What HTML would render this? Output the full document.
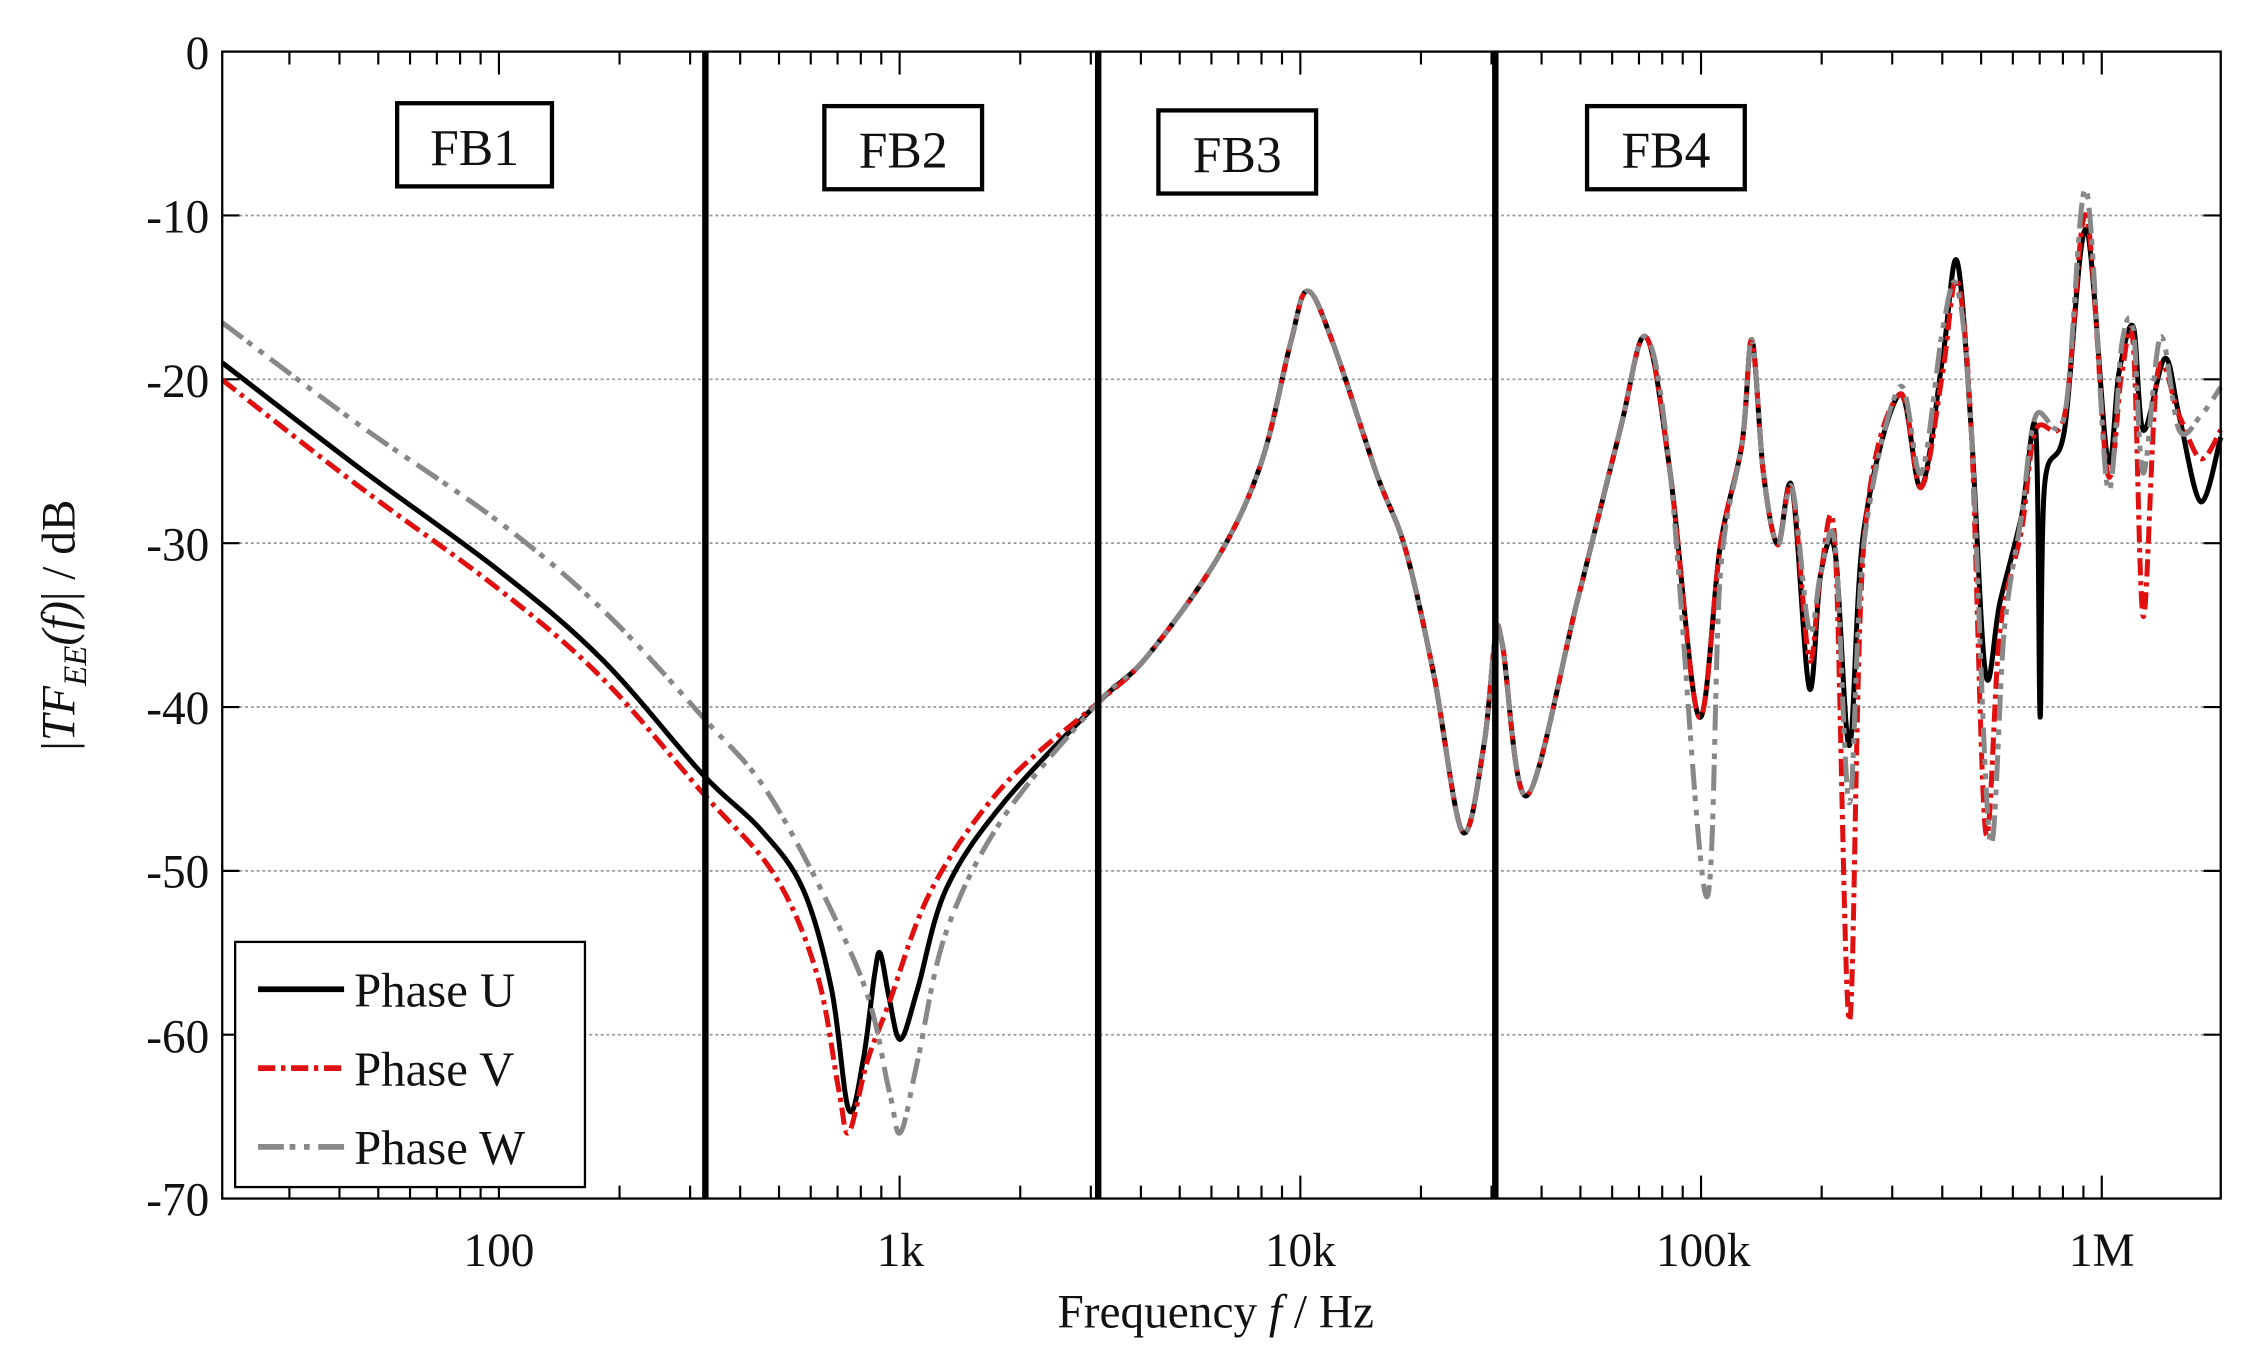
<!DOCTYPE html>
<html><head><meta charset="utf-8"><style>
html,body{margin:0;padding:0;background:#fff;}
svg{display:block;}
text{font-family:"Liberation Serif",serif;fill:#111;}
</style></head><body>
<svg id="s" width="2248" height="1370" viewBox="0 0 1568 955.6" xmlns="http://www.w3.org/2000/svg">
<rect x="0" y="0" width="1568" height="956" fill="#fff"/>
<g id="grid"></g>
<g id="ticks"></g>
<g id="curves" fill="none" stroke-linejoin="round"></g>
<g stroke="#000" stroke-width="4.5">
<line x1="492" y1="36" x2="492" y2="836"/>
<line x1="766" y1="36" x2="766" y2="836"/>
<line x1="1043" y1="36" x2="1043" y2="836"/>
</g>
<rect x="155" y="36" width="1394" height="800" fill="none" stroke="#000" stroke-width="1.6"/>
<g font-size="36" text-anchor="middle">
<rect x="277" y="72" width="108" height="58" fill="#fff" stroke="#000" stroke-width="3"/><text x="331" y="115">FB1</text>
<rect x="575" y="74" width="110" height="58" fill="#fff" stroke="#000" stroke-width="3"/><text x="630" y="117">FB2</text>
<rect x="808" y="77" width="110" height="58" fill="#fff" stroke="#000" stroke-width="3"/><text x="863" y="120">FB3</text>
<rect x="1107" y="74" width="110" height="58" fill="#fff" stroke="#000" stroke-width="3"/><text x="1162" y="117">FB4</text>
</g>
<g font-size="33" text-anchor="end">
<text x="146" y="48">0</text><text x="146" y="162">-10</text><text x="146" y="277">-20</text>
<text x="146" y="391">-30</text><text x="146" y="505">-40</text><text x="146" y="619">-50</text>
<text x="146" y="734">-60</text><text x="146" y="848">-70</text>
</g>
<g font-size="33" text-anchor="middle">
<text x="348" y="883">100</text><text x="628" y="883">1k</text><text x="907" y="883">10k</text>
<text x="1188" y="883">100k</text><text x="1466" y="883">1M</text>
<text x="848" y="926">Frequency <tspan font-style="italic">f</tspan> / Hz</text>
</g>
<text transform="translate(52,436) rotate(-90)" font-size="33" text-anchor="middle">|<tspan font-style="italic">TF</tspan><tspan font-style="italic" font-size="23" dy="8">EE</tspan><tspan font-style="italic" dy="-8">(f)</tspan>| / dB</text>
<g>
<rect x="164" y="657" width="244" height="171" fill="#fff" stroke="#000" stroke-width="1.6"/>
<line x1="180" y1="690" x2="240" y2="690" stroke="#000" stroke-width="4"/>
<line x1="180" y1="745" x2="240" y2="745" stroke="#e01010" stroke-width="4" stroke-dasharray="12 4 3 4"/>
<line x1="180" y1="800" x2="240" y2="800" stroke="#888" stroke-width="4" stroke-dasharray="18 4 4 6 4 6"/>
<g font-size="34"><text x="247" y="702">Phase U</text><text x="247" y="757">Phase V</text><text x="247" y="812">Phase W</text></g>
</g>
</svg>
<script>
var NS="http://www.w3.org/2000/svg";
function el(p,t,a){var e=document.createElementNS(NS,t);for(var k in a)e.setAttribute(k,a[k]);p.appendChild(e);return e;}
var grid=document.getElementById('grid'),ticks=document.getElementById('ticks'),cur=document.getElementById('curves');
for(var i=1;i<=6;i++){var y=36+i*114.29;el(grid,'line',{x1:155,x2:1549,y1:y,y2:y,stroke:'#999','stroke-width':1.2,'stroke-dasharray':'2 2'});
el(ticks,'line',{x1:155,x2:167,y1:y,y2:y,stroke:'#000','stroke-width':1.5});el(ticks,'line',{x1:1537,x2:1549,y1:y,y2:y,stroke:'#000','stroke-width':1.5});}
function X(f){return 348+279.5*(Math.log10(f)-2);}
for(var d=1;d<=6;d++){for(var m=1;m<=9;m++){var x=X(m*Math.pow(10,d));if(x<156||x>1548)continue;var L=(m==1)?16:9;
el(ticks,'line',{x1:x,x2:x,y1:836,y2:836-L,stroke:'#000','stroke-width':1.5});el(ticks,'line',{x1:x,x2:x,y1:36,y2:36+L,stroke:'#000','stroke-width':1.5});}}
function path(pts){var d='M'+pts[0][0]+','+pts[0][1];for(var i=0;i<pts.length-1;i++){var p0=pts[i-1]||pts[i],p1=pts[i],p2=pts[i+1],p3=pts[i+2]||p2;
var c1x=p1[0]+(p2[0]-p0[0])/6,c1y=p1[1]+(p2[1]-p0[1])/6,c2x=p2[0]-(p3[0]-p1[0])/6,c2y=p2[1]-(p3[1]-p1[1])/6;d+=' C'+c1x.toFixed(1)+','+c1y.toFixed(1)+' '+c2x.toFixed(1)+','+c2y.toFixed(1)+' '+p2[0]+','+p2[1];}return d;}
var common=[[766,490],[800,458],[850,388],[880,322],[900,240],[912,203],[930,240],[960,330],[980,382],[1000,470],[1020,580],[1035,520],[1043,445],[1048,450],[1065,555],[1100,420],[1130,300],[1148,235],[1165,330],[1185,500],[1200,380],[1215,310],[1222,237],[1230,330],[1240,380],[1250,340]];
var tailU=[[1262,480],[1270,400],[1280,385],[1290,520],[1300,370],[1325,275],[1340,340],[1355,250],[1365,182],[1375,300],[1385,470],[1395,420],[1410,360],[1420,300],[1423,500],[1426,340],[1440,300],[1455,160],[1470,320],[1478,260],[1488,228],[1495,300],[1510,250],[1520,290],[1535,350],[1549,305]];
var tailV=[[1262,460],[1270,400],[1280,380],[1290,712],[1300,380],[1325,275],[1340,340],[1355,260],[1365,195],[1375,300],[1385,580],[1395,440],[1410,370],[1420,300],[1440,290],[1455,150],[1470,330],[1480,260],[1488,240],[1495,430],[1505,260],[1520,290],[1535,320],[1549,300]];
var tailW=[[1262,440],[1270,400],[1280,380],[1290,560],[1300,380],[1325,270],[1340,330],[1355,230],[1365,200],[1375,300],[1388,586],[1398,440],[1410,360],[1420,290],[1440,290],[1455,132],[1470,340],[1480,240],[1488,230],[1495,330],[1507,235],[1520,300],[1535,290],[1549,270]];
var U=[[155,253],[250,326],[348,398],[420,460],[490,540],[530,578],[560,620],[580,690],[592,774],[602,740],[610,680],[614,665],[620,695],[628,725],[640,690],[660,620],[700,560]].concat(common).concat(tailU);
var V=[[155,265],[250,339],[348,411],[420,473],[490,553],[540,610],[570,680],[585,760],[592,790],[605,740],[620,700],[650,620],[700,548]].concat(common).concat(tailV);
var W=[[155,225],[250,296],[348,364],[420,425],[490,500],[540,560],[600,680],[620,760],[628,790],[640,740],[660,650],[700,570]].concat(common.slice(0,19)).concat([[1190,625],[1200,400]]).concat(common.slice(21)).concat(tailW);
el(cur,'path',{d:path(U),stroke:'#000','stroke-width':3.5});
el(cur,'path',{d:path(V),stroke:'#e01010','stroke-width':3.5,'stroke-dasharray':'12 4 3 4'});
el(cur,'path',{d:path(W),stroke:'#888','stroke-width':3.5,'stroke-dasharray':'18 4 4 6 4 6'});
</script>
</body></html>
